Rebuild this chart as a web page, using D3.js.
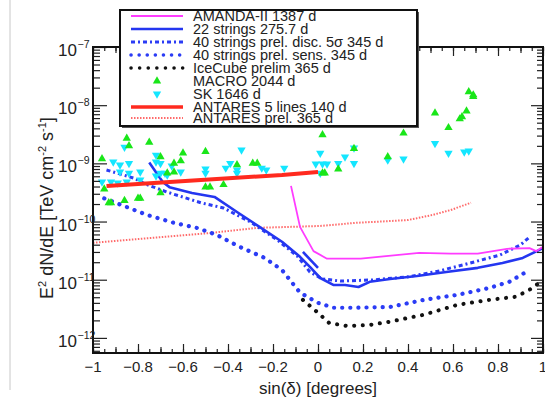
<!DOCTYPE html>
<html><head><meta charset="utf-8">
<script src="https://cdn.jsdelivr.net/npm/d3@7"></script>
<style>body{margin:0;background:#fff;} svg{display:block;font-family:"Liberation Sans",Arial,sans-serif;}</style>
</head><body><svg id="c" width="545" height="403"></svg>
<script>
// ---- data ----
const amandaX = [-0.12,-0.08,-0.02,0.04,0.19,0.45,0.59,0.71,0.84,0.94,0.97,1.0];
const amandaY = [4.1e-10,8.1e-11,3.1e-11,2.3e-11,2.3e-11,2.9e-11,2.8e-11,2.8e-11,3.4e-11,3.5e-11,3.1e-11,3.7e-11];

const s22X = [-0.75,-0.69,-0.66,-0.56,-0.46,-0.36,-0.26,-0.16,-0.08,-0.036,0.01,0.07,0.12,0.18,0.23,0.32,0.44,0.57,0.71,0.82,0.91,1.0];
const s22Y = [1.03e-9,4.8e-10,3.9e-10,3.1e-10,2.65e-10,1.46e-10,8.1e-11,4.5e-11,2.47e-11,1.66e-11,1.07e-11,8.1e-12,8.1e-12,7.5e-12,9.2e-12,1.03e-11,1.16e-11,1.36e-11,1.6e-11,1.94e-11,2.37e-11,3.5e-11];
const s22bX = [-0.067,0.0];
const s22bY = [3.0e-11,1.6e-11];

const discX = [-0.94,-0.82,-0.76,-0.67,-0.52,-0.42,-0.30,-0.18,-0.09,-0.036,0.02,0.10,0.24,0.40,0.54,0.69,0.81,0.90,0.94];
const discY = [7.7e-10,5.6e-10,4.3e-10,3.2e-10,2.1e-10,1.71e-10,9.8e-11,4.8e-11,2.5e-11,1.36e-11,1.03e-11,9.5e-12,9.9e-12,1.12e-11,1.42e-11,2.0e-11,2.67e-11,3.96e-11,5.4e-11];

const sensX = [-0.95,-0.87,-0.76,-0.64,-0.54,-0.45,-0.35,-0.24,-0.16,-0.08,0.0,0.07,0.17,0.32,0.47,0.62,0.76,0.85,0.94];
const sensY = [2.5e-10,1.9e-10,1.3e-10,9.5e-11,7.8e-11,5.9e-11,3.7e-11,2.4e-11,1.47e-11,6.0e-12,4.0e-12,3.3e-12,3.3e-12,3.4e-12,4.5e-12,5.5e-12,7.2e-12,9.2e-12,1.47e-11];

const icX = [-0.067,0.0,0.05,0.13,0.23,0.32,0.47,0.62,0.76,0.88,0.94,0.99];
const icY = [4.5e-12,2.7e-12,1.8e-12,1.6e-12,1.67e-12,1.9e-12,2.5e-12,3.7e-12,4.5e-12,5.1e-12,6.7e-12,9.2e-12];

const ant5X = [-0.94,-0.52,-0.16,0.0];
const ant5Y = [4.1e-10,5.2e-10,6.3e-10,7.1e-10];

const antPX = [-1.0,-0.47,-0.27,-0.12,0.01,0.17,0.40,0.51,0.59,0.68];
const antPY = [4.3e-11,6.4e-11,7.8e-11,8.1e-11,8.4e-11,9.5e-11,1.06e-10,1.3e-10,1.58e-10,2.1e-10];

const macroX = [-0.85,-0.84,-0.75,-0.96,-0.70,-0.60,-0.50,-0.61,-0.64,-0.95,-0.93,-0.92,-0.86,-0.80,-0.79,-0.70,-0.67,-0.64,-0.50,-0.48,-0.42,-0.36,-0.29,-0.27,0.02,0.02,0.03,0.09,0.16,0.31,0.38,0.52,0.63,0.58,0.64,0.66,0.67,0.69,0.69];
const macroY = [2.7e-9,2.0e-9,2.3e-9,1.2e-9,1.3e-9,1.5e-9,1.6e-9,1.1e-9,1.0e-9,3.6e-10,2.1e-10,2.1e-10,2.3e-10,2.5e-10,2.5e-10,3.1e-10,6.8e-10,7.1e-10,3.9e-10,3.9e-10,4.3e-10,9.4e-10,1.0e-9,1.0e-9,3.1e-9,6.8e-10,6.8e-10,8.0e-10,1.8e-9,1.3e-9,3.3e-9,7.3e-9,5.8e-9,4.1e-9,6.3e-9,7.9e-9,1.7e-8,1.5e-8,1.4e-8];

const skX = [-0.86,-0.91,-0.88,-0.84,-0.88,-0.84,-0.96,-0.92,-0.89,-0.85,-0.79,-0.79,-0.72,-0.72,-0.70,-0.65,-0.70,-0.68,-0.67,-0.61,-0.50,-0.50,-0.72,-0.34,-0.39,-0.41,-0.36,-0.36,-0.25,-0.23,-0.15,-0.01,0.01,0.02,0.04,0.01,0.52,0.12,0.16,0.09,0.31,0.38,0.16,0.58,0.65,0.67];
const skY = [1.9e-9,1.06e-9,9.4e-10,1.0e-9,7.1e-10,6.8e-10,4.8e-10,4.8e-10,4.6e-10,4.8e-10,7.1e-10,5.2e-10,1.39e-9,1.06e-9,1.0e-9,9.0e-10,6.8e-10,6.8e-10,6.3e-10,7.1e-10,8.0e-10,6.8e-10,6.1e-10,1.7e-9,1.0e-9,8.3e-10,7.7e-10,6.8e-10,8.3e-10,7.7e-10,8.3e-10,9.8e-10,1.5e-9,9.8e-10,9.8e-10,6.8e-10,2.2e-9,1.29e-9,1.0e-9,1.0e-9,1.14e-9,1.19e-9,1.84e-9,1.5e-9,1.57e-9,1.63e-9];

const xTickValues = [-1,-0.8,-0.6,-0.4,-0.2,0,0.2,0.4,0.6,0.8,1];
const xTickLabels = ["-1","-0.8","-0.6","-0.4","-0.2","0","0.2","0.4","0.6","0.8","1"];
const yDecades = [-12,-11,-10,-9,-8,-7];

const legendLabels = ["AMANDA-II 1387 d","22 strings 275.7 d","40 strings prel. disc. 5\u03c3 345 d","40 strings prel. sens. 345 d","IceCube prelim 365 d","MACRO 2044 d","SK 1646 d","ANTARES 5 lines 140 d","ANTARES prel. 365 d"];

// ---- drawing ----
const svg = d3.select("#c");
const L = 93, R = 543, T = 47, B = 353;
const x = d3.scaleLinear().domain([-1,1]).range([L,R]);
const y = d3.scaleLog().domain([5.5e-13,1e-7]).range([B,T]);

svg.append("line").attr("x1",10).attr("x2",10).attr("y1",0).attr("y2",390).attr("stroke","#c8c8c8").attr("stroke-width",1);

const zip = (xs,ys)=>xs.map((v,i)=>[v,ys[i]]);
const line = d3.line().x(d=>x(d[0])).y(d=>y(d[1]));

const styles = {
  amanda:{stroke:"#ff3cff",w:1.8,dash:null,cap:"butt"},
  s22:{stroke:"#2436f0",w:2.6,dash:null,cap:"butt"},
  disc:{stroke:"#2b3cf5",w:3,dash:"4,3,2,3",cap:"butt"},
  sens:{stroke:"#2b3cf5",w:4.2,dash:"0.1,8",cap:"round"},
  ic:{stroke:"#111",w:4,dash:"0.1,8.5",cap:"round"},
  ant5:{stroke:"#ff2a1f",w:4,dash:null,cap:"butt"},
  antP:{stroke:"#ff6a6a",w:2,dash:"1.5,1.5",cap:"butt"}
};
function drawLine(data, st){
  svg.append("path").attr("d",line(data)).attr("fill","none")
    .attr("stroke",st.stroke).attr("stroke-width",st.w)
    .attr("stroke-dasharray",st.dash).attr("stroke-linecap",st.cap)
    .attr("stroke-linejoin","round");
}
drawLine(zip(antPX,antPY),styles.antP);
drawLine(zip(sensX,sensY),styles.sens);
drawLine(zip(icX,icY),styles.ic);
drawLine(zip(discX,discY),styles.disc);
drawLine(zip(s22X,s22Y),styles.s22);
drawLine(zip(s22bX,s22bY),styles.s22);
drawLine(zip(amandaX,amandaY),styles.amanda);

const tri = d3.symbol(d3.symbolTriangle, 30)();
const green = "#19e619", cyan = "#14e6ff";
svg.append("g").selectAll("path").data(zip(skX,skY)).join("path")
  .attr("d",tri).attr("fill",cyan)
  .attr("transform",d=>`translate(${x(d[0])},${y(d[1])}) rotate(180)`);
svg.append("g").selectAll("path").data(zip(macroX,macroY)).join("path")
  .attr("d",tri).attr("fill",green)
  .attr("transform",d=>`translate(${x(d[0])},${y(d[1])})`);

drawLine(zip(ant5X,ant5Y),styles.ant5);

// ---- axes ----
const xMinor = d3.range(-1,1.0001,0.05).map(v=>+v.toFixed(2));
const xMid = d3.range(-0.9,1,0.2).map(v=>+v.toFixed(2));
const yMaj = yDecades.map(e=>Math.pow(10,e));
const yMin = [];
for(let e=-13;e<=-8;e++) for(let m=2;m<=9;m++){const v=m*Math.pow(10,e); if(v>=5.5e-13 && v<=1e-7) yMin.push(v);}

function ax(gen, tx, ty){ const g=svg.append("g").attr("transform",`translate(${tx},${ty})`).call(gen); g.select(".domain").remove(); g.selectAll("line").attr("stroke","#222").attr("stroke-width",1.2); return g;}
ax(d3.axisBottom(x).tickValues(xMinor).tickSize(-4).tickFormat(""),0,B);
ax(d3.axisBottom(x).tickValues(xMid).tickSize(-6).tickFormat(""),0,B);
ax(d3.axisBottom(x).tickValues(xTickValues).tickSize(-9).tickFormat(""),0,B);
ax(d3.axisTop(x).tickValues(xMinor).tickSize(-4).tickFormat(""),0,T);
ax(d3.axisTop(x).tickValues(xMid).tickSize(-6).tickFormat(""),0,T);
ax(d3.axisTop(x).tickValues(xTickValues).tickSize(-9).tickFormat(""),0,T);
ax(d3.axisLeft(y).tickValues(yMin).tickSize(-7).tickFormat(""),L,0);
ax(d3.axisLeft(y).tickValues(yMaj).tickSize(-14).tickFormat(""),L,0);
ax(d3.axisRight(y).tickValues(yMin).tickSize(-6).tickFormat(""),R,0);
ax(d3.axisRight(y).tickValues(yMaj).tickSize(-12).tickFormat(""),R,0);

svg.append("rect").attr("x",L).attr("y",T).attr("width",R-L).attr("height",B-T)
  .attr("fill","none").attr("stroke","#111").attr("stroke-width",2);

// x tick labels
svg.append("g").selectAll("text").data(xTickValues).join("text")
  .attr("x",d=>x(d)).attr("y",372).attr("text-anchor","middle")
  .attr("font-size",15).attr("fill","#222")
  .text((d,i)=>xTickLabels[i].replace("-","\u2212"));
// y tick labels
const yl = svg.append("g");
yDecades.forEach(e=>{
  const v=Math.pow(10,e), py=y(v);
  yl.append("text").attr("x",77).attr("y",py+9).attr("text-anchor","end").attr("font-size",17).attr("fill","#222").text("10");
  yl.append("text").attr("x",77.5).attr("y",py+1).attr("text-anchor","start").attr("font-size",10.5).attr("fill","#222").text("\u2212"+(-e));
});
// axis titles
svg.append("text").attr("x",318).attr("y",394).attr("text-anchor","middle").attr("font-size",17).attr("fill","#222").text("sin(\u03b4) [degrees]");
const yt = svg.append("text").attr("transform","translate(53,208) rotate(-90)").attr("text-anchor","middle").attr("font-size",18).attr("fill","#222");
yt.append("tspan").text("E");
yt.append("tspan").attr("font-size",11).attr("dy",-7).text("2");
yt.append("tspan").attr("dy",7).text(" dN/dE [TeV cm");
yt.append("tspan").attr("font-size",11).attr("dy",-7).text("-2");
yt.append("tspan").attr("dy",7).text(" s");
yt.append("tspan").attr("font-size",11).attr("dy",-7).text("-1");
yt.append("tspan").attr("dy",7).text("]");

// ---- legend ----
const lg = svg.append("g");
lg.append("rect").attr("x",122).attr("y",12).attr("width",297).attr("height",116).attr("fill","#555");
lg.append("rect").attr("x",120).attr("y",10).attr("width",297).attr("height",116).attr("fill","#fff").attr("stroke","#111").attr("stroke-width",2);
const rowY = [16,29,42,55,68,81,94,107,118];
const keys = ["amanda","s22","disc","sens","ic",null,null,"ant5","antP"];
keys.forEach((k,i)=>{
  if(k){ const st=styles[k];
    lg.append("line").attr("x1",131).attr("x2",183).attr("y1",rowY[i]).attr("y2",rowY[i])
      .attr("stroke",st.stroke).attr("stroke-width",Math.min(st.w,3.5)).attr("stroke-dasharray",st.dash).attr("stroke-linecap",st.cap);
  }
});
lg.append("path").attr("d",tri).attr("fill",green).attr("transform",`translate(157,${rowY[5]})`);
lg.append("path").attr("d",tri).attr("fill",cyan).attr("transform",`translate(157,${rowY[6]}) rotate(180)`);
lg.selectAll("text.l").data(legendLabels).join("text").attr("class","l")
  .attr("x",193).attr("y",(d,i)=>rowY[i]).attr("dy","0.36em").attr("font-size",14.5).attr("fill","#222").text(d=>d);
</script></body></html>
